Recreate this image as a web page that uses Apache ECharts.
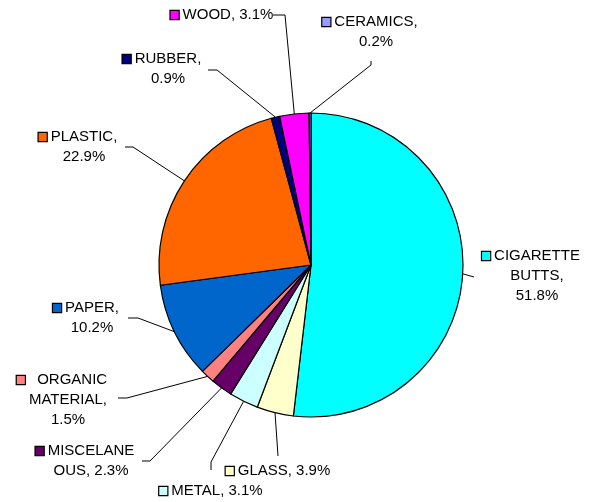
<!DOCTYPE html>
<html><head><meta charset="utf-8">
<script src="https://cdn.jsdelivr.net/npm/echarts@6/dist/echarts.min.js"></script>
<style>html,body{margin:0;padding:0;background:#fff}#c{width:591px;height:502px}</style>
</head><body><div id="c"></div>
<script>
const categories = ['CIGARETTE BUTTS','GLASS','METAL','MISCELANEOUS','ORGANIC MATERIAL','PAPER','PLASTIC','RUBBER','WOOD','CERAMICS'];
const values = [51.8, 3.9, 3.1, 2.3, 1.5, 10.2, 22.9, 0.9, 3.1, 0.2];
const labelNames = ['CIGARETTE\nBUTTS,', 'GLASS,', 'METAL,', 'MISCELANE\nOUS,', '  ORGANIC\nMATERIAL,', 'PAPER,', 'PLASTIC,', 'RUBBER,', 'WOOD,', 'CERAMICS,'];
const labelSep = ['\n', ' ', ' ', ' ', '\n', '\n', '\n', '\n', ' ', '\n'];
const colors = ['#00FFFF','#FFFFCC','#CCFFFF','#660066','#FF8080','#0066CC','#FF6600','#000080','#FF00FF','#9999FF'];
// label layout: [center x, top y], leader elbow, leader end
const labelPos = [[537,246],[284,461],[217,481],[91,441],[68,370],[92,298],[84,127],[168,49],[228,5],[376,12]];
const leaderElbow = [[474,277],[278,456],[211,462],[150,461],[127,398],[138,318],[133,147],[217,70],[285,15],[371,65]];
const leaderEnd = [[474,277],[278,456],[211,470],[142,461],[118,398],[128,318],[125,147],[208,70],[273,15],[371,61]];

const FONT = '"Liberation Sans", Arial, sans-serif';
const data = categories.map((c, i) => ({
  name: c,
  value: values[i],
  itemStyle: { color: colors[i] },
  label: {
    formatter: () => {
      const lines = (labelNames[i] + labelSep[i] + values[i].toFixed(1) + '%').split('\n');
      lines[0] = '{sq|}{g|}' + lines[0] + '{sp|}';
      return lines.join('\n');
    },
    rich: {
      sq: { width: 8, height: 8, backgroundColor: colors[i], borderColor: '#000', borderWidth: 1.2 },
      g: { width: 4 },
      sp: { width: 12 }
    }
  }
}));

const chart = echarts.init(document.getElementById('c'), null, { renderer: 'canvas' });
chart.setOption({
  animation: false,
  backgroundColor: '#fff',
  series: [{
    type: 'pie',
    center: [311, 265],
    radius: 152,
    startAngle: 90,
    clockwise: true,
    avoidLabelOverlap: false,
    data: data,
    itemStyle: { borderColor: '#000', borderWidth: 1.2 },
    label: {
      show: true,
      position: 'outside',
      color: '#000',
      fontFamily: FONT,
      fontSize: 15,
      lineHeight: 20,
      align: 'center'
    },
    labelLine: { show: true, lineStyle: { color: '#000', width: 1 } },
    emphasis: { disabled: true },
    labelLayout: function (params) {
      const i = params.dataIndex;
      const p0 = params.labelLinePoints ? params.labelLinePoints[0] : [0, 0];
      return {
        x: labelPos[i][0],
        y: labelPos[i][1],
        align: 'center',
        verticalAlign: 'top',
        labelLinePoints: [p0, leaderElbow[i], leaderEnd[i]]
      };
    }
  }]
});
</script></body></html>
